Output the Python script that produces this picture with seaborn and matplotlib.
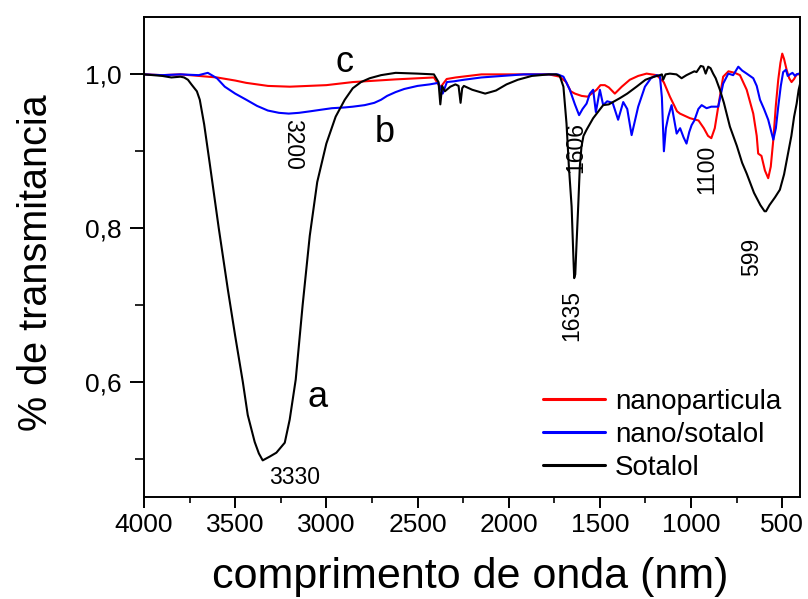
import matplotlib
matplotlib.use("Agg")
import matplotlib.pyplot as plt
from matplotlib.ticker import MultipleLocator, FuncFormatter
import seaborn as sns
import pandas as pd

# ---- data ----
series_names = ["nanoparticula", "nano/sotalol", "Sotalol"]
series_colors = ["#ff0000", "#0000ff", "#000000"]

red_w = [4000, 3900, 3800, 3700, 3600, 3500, 3440, 3320, 3200, 3000, 2855, 2620, 2410, 2375, 2340,
         2290, 2150, 1900, 1780, 1720, 1685, 1660, 1637, 1600, 1567, 1518, 1497, 1473, 1451, 1418,
         1380, 1336, 1290, 1244, 1189, 1150, 1116, 1077, 1061, 1006, 959, 930, 907, 889, 870,
         851, 824, 795, 760, 732, 695, 659, 640, 632, 614, 595, 577, 563, 549, 535,
         522, 510, 500, 490, 476, 462, 449, 435, 421, 400]
red_v = [1.0, 0.999, 1.0, 0.998, 0.996, 0.992, 0.989, 0.985, 0.984, 0.986, 0.990, 0.9935, 0.996, 0.983, 0.994,
         0.996, 1.0, 1.0, 1.0, 0.997, 0.99, 0.978, 0.975, 0.972, 0.971, 0.980, 0.986, 0.986, 0.983, 0.975,
         0.984, 0.993, 0.998, 1.001, 0.999, 0.99, 0.971, 0.952, 0.949, 0.943, 0.94, 0.93, 0.92, 0.917, 0.93,
         0.958, 0.997, 1.004, 1.002, 0.999, 0.98, 0.949, 0.92, 0.897, 0.894, 0.875, 0.865, 0.88, 0.915, 0.96,
         0.993, 1.015, 1.027, 1.02, 1.006, 0.995, 0.99, 0.994, 1.0, 1.0]

blue_w = [4000, 3900, 3800, 3700, 3650, 3600, 3557, 3500, 3439, 3380, 3321, 3260, 3206, 3150, 3088,
          3030, 2970, 2900, 2855, 2790, 2737, 2700, 2667, 2620, 2573, 2500, 2433, 2386, 2362, 2339,
          2300, 2246, 2150, 2035, 1918, 1800, 1731, 1700, 1685, 1665, 1637, 1614, 1595, 1573, 1555,
          1537, 1522, 1500, 1482, 1460, 1430, 1400, 1372, 1350, 1326, 1290, 1253, 1220, 1189, 1171,
          1160, 1149, 1138, 1125, 1107, 1079, 1060, 1041, 1025, 1010, 997, 982, 960, 942, 915,
          889, 870, 851, 824, 796, 769, 741, 720, 695, 659, 640, 622, 600, 577, 549,
          535, 522, 508, 495, 480, 470, 458, 444, 430, 421, 409, 400]
blue_v = [1.0, 0.999, 1.0, 0.999, 1.002, 0.995, 0.984, 0.975, 0.967, 0.959, 0.953, 0.950, 0.949, 0.950, 0.952,
          0.954, 0.956, 0.957, 0.958, 0.960, 0.963, 0.967, 0.972, 0.977, 0.981, 0.985, 0.987, 0.989, 0.975, 0.990,
          0.991, 0.993, 0.996, 0.998, 1.0, 1.0, 1.0, 0.997, 0.99, 0.98, 0.961, 0.947, 0.955, 0.962, 0.975,
          0.98, 0.951, 0.98, 0.96, 0.965, 0.963, 0.941, 0.964, 0.955, 0.921, 0.958, 0.984, 0.995, 0.999, 0.998,
          0.97, 0.900, 0.93, 0.945, 0.96, 0.923, 0.93, 0.918, 0.91, 0.925, 0.934, 0.94, 0.955, 0.96, 0.956,
          0.958, 0.958, 0.958, 0.988, 1.001, 0.999, 1.01, 1.005, 1.001, 0.995, 0.985, 0.967, 0.955, 0.941, 0.915,
          0.93, 0.958, 0.985, 1.003, 1.006, 0.998, 1.0, 1.002, 0.998, 1.0, 1.001, 1.0]

black_w = [4000, 3900, 3850, 3800, 3780, 3759, 3740, 3710, 3694, 3670, 3640, 3590, 3540, 3500, 3458,
           3431, 3393, 3370, 3349, 3310, 3274, 3228, 3201, 3168, 3130, 3091, 3050, 3000, 2949, 2899,
           2855, 2810, 2762, 2700, 2620, 2500, 2410, 2385, 2375, 2365, 2350, 2320, 2292, 2275, 2264,
           2255, 2246, 2200, 2129, 2070, 2012, 1950, 1873, 1780, 1740, 1720, 1700, 1683, 1670, 1655,
           1645, 1641, 1635, 1628, 1619, 1610, 1601, 1590, 1573, 1537, 1482, 1451, 1391, 1350, 1299,
           1250, 1216, 1171, 1160, 1153, 1140, 1116, 1080, 1052, 1025, 982, 970, 947, 933, 920,
           906, 893, 879, 865, 842, 820, 787, 749, 720, 695, 655, 620, 597, 589, 570,
           540, 513, 490, 470, 450, 435, 421, 410, 400]
black_v = [1.0, 0.998, 0.996, 0.997, 0.996, 0.993, 0.987, 0.978, 0.967, 0.935, 0.885, 0.80, 0.72, 0.66, 0.60,
           0.557, 0.522, 0.507, 0.498, 0.503, 0.508, 0.521, 0.551, 0.603, 0.70, 0.79, 0.86, 0.91, 0.945, 0.967,
           0.982, 0.99, 0.995, 0.999, 1.002, 1.001, 1.0, 0.99, 0.961, 0.985, 0.978, 0.984, 0.987, 0.985, 0.963,
           0.982, 0.985, 0.98, 0.975, 0.979, 0.987, 0.993, 0.998, 1.0, 1.0, 0.998, 0.984, 0.936, 0.88, 0.828,
           0.76, 0.735, 0.74, 0.78, 0.828, 0.88, 0.906, 0.92, 0.928, 0.943, 0.96, 0.961, 0.969, 0.975, 0.984,
           0.993, 0.996, 0.999, 1.0, 0.993, 1.0, 1.001, 1.0, 0.995, 0.999, 1.004, 1.003, 1.011, 1.01, 1.001,
           1.01, 1.008, 1.001, 0.995, 0.98, 0.963, 0.932, 0.907, 0.885, 0.871, 0.846, 0.83, 0.822, 0.822, 0.83,
           0.84, 0.85, 0.87, 0.895, 0.92, 0.945, 0.962, 0.98, 0.99]

x_ticks = [4000, 3500, 3000, 2500, 2000, 1500, 1000, 500]
y_ticks = [0.6, 0.8, 1.0]

peak_labels = ["3330", "3200", "1606", "1635", "1100", "599"]
curve_letters = ["a", "b", "c"]

# ---- style ----
sns.set_style("ticks")
plt.rcParams["font.family"] = ["Liberation Sans", "DejaVu Sans"]
plt.rcParams["text.color"] = "black"
plt.rcParams["axes.labelcolor"] = "black"
plt.rcParams["xtick.color"] = "black"
plt.rcParams["ytick.color"] = "black"
plt.rcParams["axes.edgecolor"] = "black"

fig = plt.figure(figsize=(8.08, 5.99), dpi=100)
ax = fig.add_axes([0.1782, 0.1698, 0.8125, 0.8023])

frames = [pd.DataFrame({"w": w, "T": v, "amostra": n})
          for w, v, n in zip([red_w, blue_w, black_w], [red_v, blue_v, black_v], series_names)]
df = pd.concat(frames, ignore_index=True)

for name, color in zip(series_names, series_colors):
    sns.lineplot(data=df[df["amostra"] == name], x="w", y="T", color=color,
                 linewidth=1.5, label=name, ax=ax, estimator=None)

ax.set_xlim(4000, 400)
ax.set_ylim(0.45, 1.075)
ax.set_xticks(x_ticks)
ax.set_yticks(y_ticks)
ax.xaxis.set_minor_locator(MultipleLocator(250))
ax.yaxis.set_minor_locator(MultipleLocator(0.1))
ax.yaxis.set_major_formatter(FuncFormatter(lambda v, p: f"{v:.1f}".replace(".", ",")))

for s in ax.spines.values():
    s.set_linewidth(1.4)
    s.set_color("black")

ax.tick_params(axis="both", which="major", direction="out", labelsize=19, width=1.4,
               color="black", labelcolor="black")
ax.tick_params(axis="x", which="major", length=8, pad=3)
ax.tick_params(axis="y", which="major", length=10, pad=6)
ax.tick_params(axis="x", which="minor", direction="out", length=4.5, width=1.2, color="black")
ax.tick_params(axis="y", which="minor", direction="out", length=6.5, width=1.2, color="black")

ax.set_xlabel("comprimento de onda (nm)", fontsize=31, color="black")
ax.set_ylabel("% de transmitancia", fontsize=28.5, color="black")
ax.xaxis.set_label_coords(0.497, -0.125)
ax.yaxis.set_label_coords(-0.135, 0.489)

# annotations
fs_peak = 16.5
ax.text(3173, 0.476, peak_labels[0], fontsize=fs_peak, ha="center", va="center")
ax.text(3184, 0.909, peak_labels[1], fontsize=fs_peak, ha="center", va="center", rotation=-90)
ax.text(1630, 0.905, peak_labels[2], fontsize=fs_peak, ha="center", va="center", rotation=90)
ax.text(1653, 0.686, peak_labels[3], fontsize=fs_peak, ha="center", va="center", rotation=90)
ax.text(915, 0.876, peak_labels[4], fontsize=fs_peak, ha="center", va="center", rotation=90)
ax.text(668, 0.763, peak_labels[5], fontsize=fs_peak, ha="center", va="center", rotation=90)
ax.text(3047, 0.58, curve_letters[0], fontsize=26, ha="center", va="center")
ax.text(2680, 0.924, curve_letters[1], fontsize=26, ha="center", va="center")
ax.text(2899, 1.016, curve_letters[2], fontsize=26, ha="center", va="center")

leg = ax.legend(loc="upper left", bbox_to_anchor=(0.6076, 0.225), frameon=False,
                fontsize=20, handlelength=2.25, handletextpad=0.35, labelspacing=0.25,
                borderpad=0, borderaxespad=0)
for line in leg.get_lines():
    line.set_linewidth(2.2)
for t in leg.get_texts():
    t.set_color("black")

fig.savefig("out.png", dpi=100)
